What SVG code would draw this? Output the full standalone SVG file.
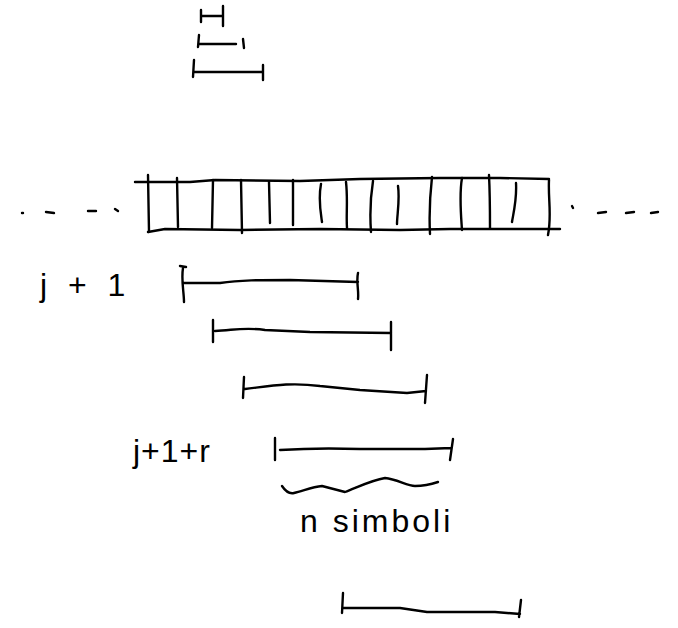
<svg xmlns="http://www.w3.org/2000/svg" width="678" height="628" viewBox="0 0 678 628">
<style>
.s{fill:none;stroke:#000;stroke-width:2.4;stroke-linecap:round;stroke-linejoin:round}
.t{font-family:"Liberation Sans",Arial,sans-serif;fill:#000;font-size:32px}
</style>
<rect width="678" height="628" fill="#fff"/>
<g id="top-bars">
<path class="s" d="M201,10 L201,22 M201,16 L222,16 M223,6 L223,26"/>
<path class="s" d="M199,35 L198,47 M199,44 L236,44 M243,39 L244,48"/>
<path class="s" d="M194,60 L193,77 M194,72 L263,72 M263,65 L263,80"/>
</g>
<g id="tape">
<path class="s" d="M135,182 L190,182 L215,180 L300,181 L360,179 L440,178 L500,178 L549,179"/>
<path class="s" d="M148,232 L165,229 L240,230 L320,229 L400,230 L450,229 L500,229 L560,229"/>
<path class="s" d="M148,175 L149,232 M177,178 L178,227 M213,180 L212,228 M241,180 L242,233 M269,182 L270,223 M293,180 L293,225 M321,184 C318,200 321,215 322,222 M346,182 C348,200 346,215 347,228 M373,181 C370,200 370,218 371,232 M398,186 C400,200 397,215 397,224 M432,177 C430,195 429,215 430,234 M462,178 C459,195 461,215 462,230 M489,175 C490,195 490,215 490,228 M516,183 C517,200 513,215 512,222 M549,180 C548,200 552,215 548,235"/>
<path class="s" d="M22,213 L23,213 M46,212 L54,213 M88,211 L96,211 M115,209 L118,211"/>
<path class="s" d="M572,206 L573,208 M598,213 L606,212 M626,213 L634,212 M651,213 L658,212"/>
</g>
<g id="windows">
<path class="s" d="M183,268 C181,280 184,292 184,302 M180,266 L186,267 M184,283 L220,283 C240,280 260,280 290,280 L358,282 M358,273 C356,282 359,290 358,299"/>
<path class="s" d="M213,320 L213,342 M215,331 C235,330 245,327 265,330 L310,332 L391,333 M391,322 L391,350"/>
<path class="s" d="M244,377 L243,398 M245,389 C270,386 290,382 320,386 L360,390 L407,393 L426,391 M427,375 L425,403"/>
<path class="s" d="M275,438 L275,460 M280,450 C310,448 330,448 360,449 L425,449 L451,448 M453,439 L450,460"/>
<path class="s" d="M282,486 C286,492 290,494 294,493 C303,491 312,487 322,486 L345,492 C358,487 372,480 385,478 C397,479 407,486 415,486 C425,486 432,484 438,482"/>
<path class="s" d="M343,593 L342,613 M343,608 L400,608 L427,612 L495,612 L520,614 M521,600 L519,617"/>
</g>
<g id="labels">
<text class="t" x="40" y="296" letter-spacing="6">j + 1</text>
<text class="t" x="133" y="462" letter-spacing="1">j+1+r</text>
<text class="t" x="300" y="532" letter-spacing="3">n simboli</text>
</g>
</svg>
